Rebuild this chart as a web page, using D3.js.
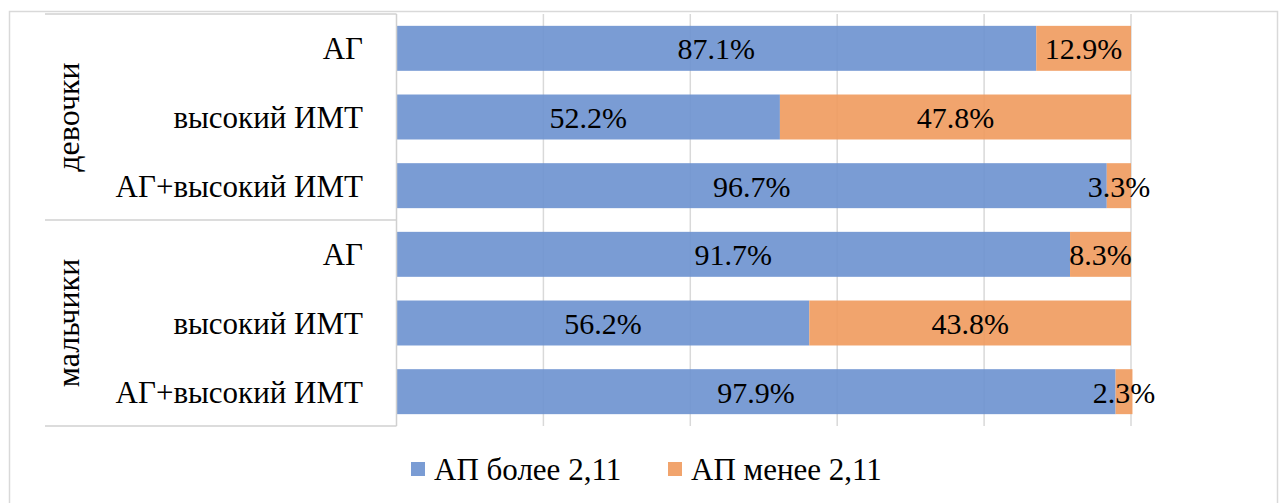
<!DOCTYPE html>
<html>
<head>
<meta charset="utf-8">
<script src="https://cdn.jsdelivr.net/npm/d3@7"></script>
<style>
  html, body { margin: 0; padding: 0; background: #fff; }
  svg { display: block; }
</style>
</head>
<body>
<svg id="chart" width="1281" height="503"></svg>
<script>
// Groups and categories (top to bottom)
const groups = ["девочки", "мальчики"];
const categories = ["АГ", "высокий ИМТ", "АГ+высокий ИМТ"];
// Shares, %, per row (group × category)
const above211 = [87.1, 52.2, 96.7, 91.7, 56.2, 97.9];
const below211 = [12.9, 47.8, 3.3, 8.3, 43.8, 2.3];
const seriesNames = ["АП более 2,11", "АП менее 2,11"];
const xTicks = [0, 20, 40, 60, 80, 100];

const colors = ["#6c91cf", "#ef9a5d"];
const FONT = "'Liberation Serif', 'Times New Roman', Times, serif";

const svg = d3.select("#chart").attr("font-family", FONT);
const plot = { left: 396.5, right: 1131, top: 14, bottom: 426 };
const axisLeft = 45;

const rows = [];
groups.forEach((g, gi) => categories.forEach((c, ci) => {
  const i = gi * categories.length + ci;
  rows.push({ key: g + "|" + c, group: g, cat: c, vals: [above211[i], below211[i]] });
}));

const x = d3.scaleLinear().domain([0, 100]).range([plot.left, plot.right]);
const y = d3.scaleBand().domain(rows.map(r => r.key))
  .range([plot.top, plot.bottom]).paddingInner(0.345).paddingOuter(0.345 / 2);

// Outer chart frame
svg.append("rect").attr("x", 9.5).attr("y", 11.5).attr("width", 1268).attr("height", 520)
  .attr("fill", "none").attr("stroke", "#d9d9d9").attr("stroke-width", 1.5);

// Vertical gridlines
svg.append("g").selectAll("line").data(xTicks.slice(1)).join("line")
  .attr("x1", d => x(d)).attr("x2", d => x(d))
  .attr("y1", plot.top).attr("y2", plot.bottom)
  .attr("stroke", "#d9d9d9").attr("stroke-width", 1.5);

// Stacked bars
const stacked = rows.map(r => {
  let acc = 0;
  return r.vals.map((v, si) => {
    const seg = { row: r, si, v, x0: acc, x1: acc + v };
    acc += v;
    return seg;
  });
}).flat();

svg.append("g").selectAll("rect").data(stacked).join("rect")
  .attr("x", d => x(d.x0))
  .attr("width", d => x(d.x1) - x(d.x0))
  .attr("y", d => y(d.row.key))
  .attr("height", y.bandwidth())
  .attr("fill", d => colors[d.si])
  .attr("fill-opacity", 0.9);

// Value labels centred in each segment
svg.append("g").selectAll("text").data(stacked).join("text")
  .attr("x", d => (x(d.x0) + x(d.x1)) / 2)
  .attr("y", d => y(d.row.key) + y.bandwidth() / 2)
  .attr("dy", "0.37em")
  .attr("text-anchor", "middle")
  .attr("font-family", FONT)
  .attr("font-size", 30)
  .text(d => d.v.toFixed(1) + "%");

// Category axis with group brackets
const axisG = svg.append("g");
const gridStroke = "#d0d0d0";
axisG.append("line").attr("x1", plot.left).attr("x2", plot.left)
  .attr("y1", plot.top).attr("y2", plot.bottom)
  .attr("stroke", gridStroke).attr("stroke-width", 1.5);

const groupBounds = groups.map(g => {
  const keys = rows.filter(r => r.group === g).map(r => r.key);
  const step = y.step();
  const top = y(keys[0]) - step * y.paddingInner() / 2;
  const bottom = y(keys[keys.length - 1]) + y.bandwidth() + step * y.paddingInner() / 2;
  return { g, top, bottom };
});
const hLines = [plot.top, ...groupBounds.slice(0, -1).map(b => b.bottom), plot.bottom];
axisG.selectAll("line.sep").data(hLines).join("line").attr("class", "sep")
  .attr("x1", axisLeft).attr("x2", plot.left)
  .attr("y1", d => d).attr("y2", d => d)
  .attr("stroke", gridStroke).attr("stroke-width", 1.5);

axisG.selectAll("text.cat").data(rows).join("text").attr("class", "cat")
  .attr("x", 363)
  .attr("y", d => y(d.key) + y.bandwidth() / 2)
  .attr("dy", "0.36em")
  .attr("text-anchor", "end")
  .attr("font-family", FONT)
  .attr("font-size", 31)
  .text(d => d.cat);

axisG.selectAll("text.grp").data(groupBounds).join("text").attr("class", "grp")
  .attr("transform", d => `translate(79,${(d.top + d.bottom) / 2}) rotate(-90)`)
  .attr("text-anchor", "middle")
  .attr("font-family", FONT)
  .attr("font-size", 32)
  .text(d => d.g);

// Legend
const legend = svg.append("g");
const legendItems = [{ name: seriesNames[0], x: 411 }, { name: seriesNames[1], x: 668 }];
legendItems.forEach((it, i) => {
  legend.append("rect").attr("x", it.x).attr("y", 462).attr("width", 14).attr("height", 14)
    .attr("fill", colors[i]).attr("fill-opacity", 0.9);
  legend.append("text").attr("x", it.x + 23).attr("y", 480)
    .attr("font-family", FONT)
    .attr("font-size", 31).text(it.name);
});
</script>
</body>
</html>
